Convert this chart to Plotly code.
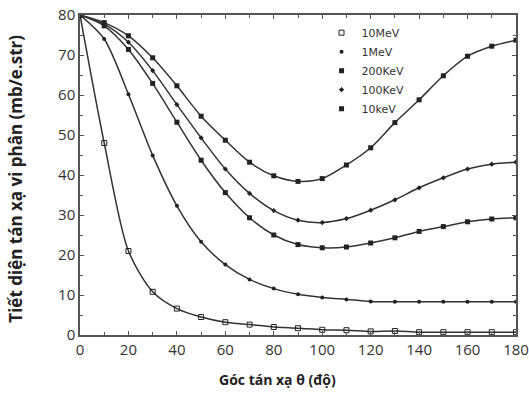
import plotly.graph_objects as go

angles = [0, 10, 20, 30, 40, 50, 60, 70, 80, 90, 100, 110, 120, 130, 140, 150, 160, 170, 180]

mev10 = [80, 48, 21, 10.8, 6.6, 4.5, 3.2, 2.6, 2.0, 1.7, 1.3, 1.2, 0.9, 1.0, 0.7, 0.7, 0.7, 0.7, 0.7]
mev1 = [80, 74, 60.2, 44.9, 32.3, 23.3, 17.6, 13.9, 11.6, 10.2, 9.4, 8.9, 8.4, 8.3, 8.3, 8.3, 8.3, 8.3, 8.3]
kev200 = [80, 77.3, 71.4, 62.9, 53.2, 43.7, 35.6, 29.3, 25.0, 22.6, 21.8, 22.0, 23.0, 24.3, 25.9, 27.1, 28.3, 29.0, 29.3]
kev100 = [80, 77.7, 73.2, 66.1, 57.6, 49.3, 41.5, 35.4, 31.1, 28.7, 28.1, 29.1, 31.2, 33.8, 36.8, 39.3, 41.5, 42.7, 43.2]
kev10 = [80, 78.1, 74.8, 69.3, 62.3, 54.7, 48.7, 43.2, 39.8, 38.4, 39.1, 42.5, 46.8, 53.1, 58.8, 64.8, 69.7, 72.2, 73.7]

names = ["10MeV", "1MeV", "200KeV", "100KeV", "10keV"]
series = [mev10, mev1, kev200, kev100, kev10]
symbols = ["square-open", "circle", "square", "diamond", "square"]
sizes = [5, 4, 5, 4, 5]

x_title = "Góc tán xạ θ (độ)"
y_title = "Tiết diện tán xạ vi phân (mb/e.str)"

LINE = "#333333"
fig = go.Figure()
for n, s, sym, sz in zip(names, series, symbols, sizes):
    fig.add_trace(go.Scatter(
        x=angles, y=s, mode="lines", line=dict(color=LINE, width=1.5, shape="spline", smoothing=0.8),
        showlegend=False, hoverinfo="skip"))
    fig.add_trace(go.Scatter(
        x=angles, y=s, mode="markers", name=n,
        marker=dict(symbol=sym, size=sz, color="#222222",
                    line=dict(color="#222222", width=1 if sym == "square-open" else 0))))

axis_common = dict(showline=True, linecolor="#555555", linewidth=1.5, mirror="ticks",
                   ticks="inside", ticklen=4, tickcolor="#555555", showgrid=False, zeroline=False,
                   automargin=False, ticklabeloverflow="allow",
                   tickfont=dict(family="Open Sans, DejaVu Sans", size=15, color="#333333"))

fig.update_layout(
    width=529, height=393,
    margin=dict(l=80, r=13, t=15, b=58),
    paper_bgcolor="white", plot_bgcolor="white",
    xaxis=dict(range=[0, 180], tickvals=list(range(0, 181, 20)),
               minor=dict(tickvals=list(range(10, 180, 20)), ticks="inside", ticklen=3, tickcolor="#555555"),
               **axis_common),
    yaxis=dict(range=[0, 80], tickvals=list(range(0, 81, 10)),
               minor=dict(tickvals=list(range(5, 80, 10)), ticks="inside", ticklen=3, tickcolor="#555555"),
               **axis_common),
    legend=dict(x=0.554, y=0.99, xanchor="left", yanchor="top", bgcolor="rgba(0,0,0,0)",
                font=dict(family="DejaVu Sans", size=11, color="#333333"), itemsizing="trace",
                tracegroupgap=0, itemwidth=30),
    annotations=[
        dict(text="<b>" + x_title + "</b>", xref="paper", yref="paper", x=0.454, y=-0.14,
             xanchor="center", yanchor="middle", showarrow=False,
             font=dict(family="Open Sans, DejaVu Sans", size=14, color="#222222")),
        dict(text="<b>" + y_title + "</b>", xref="paper", yref="paper", x=-0.148, y=0.49,
             xanchor="center", yanchor="middle", showarrow=False, textangle=-90,
             font=dict(family="Open Sans, DejaVu Sans", size=17, color="#222222")),
    ],
)

fig.write_html("out.html", config={"displayModeBar": False},
               post_script="document.body.style.margin='0';document.body.style.overflow='hidden';")
